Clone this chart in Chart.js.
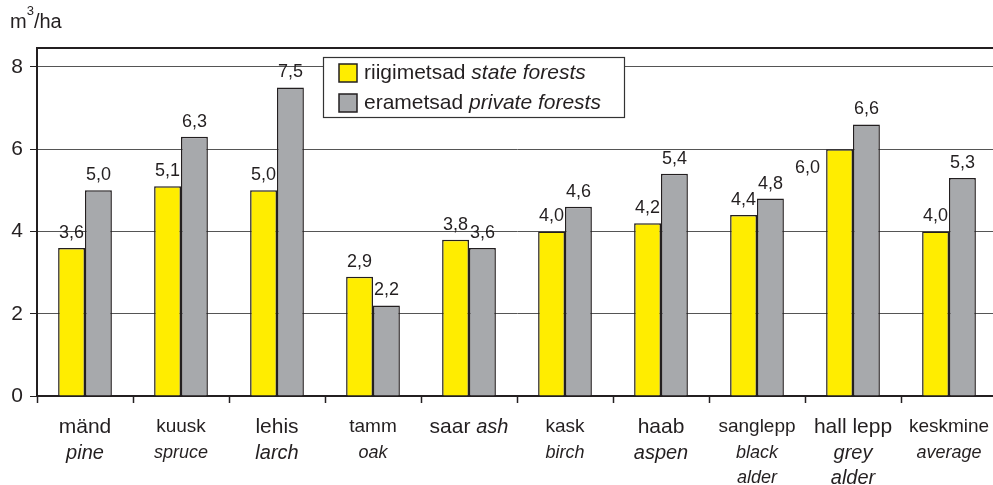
<!DOCTYPE html>
<html>
<head>
<meta charset="utf-8">
<script src="https://cdn.jsdelivr.net/npm/chart.js@4.4.1/dist/chart.umd.min.js"></script>
<style>
    html, body { margin: 0; padding: 0; overflow: hidden; background: #fff; }
</style>
</head>
<body>
<canvas id="chart" width="1000" height="485"></canvas>
<script>
// species names (Estonian / English)
const speciesEt = ['mänd', 'kuusk', 'lehis', 'tamm', 'saar', 'kask', 'haab', 'sanglepp', 'hall lepp', 'keskmine'];
const speciesEn = [['pine'], ['spruce'], ['larch'], ['oak'], ['ash'], ['birch'], ['aspen'], ['black', 'alder'], ['grey', 'alder'], ['average']];

// legend texts
const seriesEt = ['riigimetsad', 'erametsad'];
const seriesEn = ['state forests', 'private forests'];

// m3/ha values
const stateValues = [3.6, 5.1, 5.0, 2.9, 3.8, 4.0, 4.2, 4.4, 6.0, 4.0];
const privateValues = [5.0, 6.3, 7.5, 2.2, 3.6, 4.6, 5.4, 4.8, 6.6, 5.3];

const yTicks = [0, 2, 4, 6, 8];
const unitLabel = ['m', '3', '/ha'];

const FONT = 'Arial, "Liberation Sans", sans-serif';
const INK = '#231f20';
const colors = ['#ffed00', '#a7a9ac'];

function fmt(v) {
    return v.toFixed(1).replace('.', ',');
}

// labels above bars
const valueLabels = {
    id: 'valueLabels',
    afterDatasetsDraw(chart) {
        const ctx = chart.ctx;
        ctx.save();
        ctx.font = '18px ' + FONT;
        ctx.fillStyle = INK;
        ctx.textBaseline = 'bottom';
        chart.data.datasets.forEach((ds, di) => {
            chart.getDatasetMeta(di).data.forEach((bar, i) => {
                const text = fmt(ds.data[i]);
                // state label of "hall lepp" sits left of its bar in the original
                if (di === 0 && speciesEt[i] === 'hall lepp') {
                    ctx.textAlign = 'right';
                    ctx.fillText(text, bar.x - bar.width / 2 - 6, bar.y + 28);
                    return;
                }
                ctx.textAlign = 'center';
                ctx.fillText(text, bar.x, bar.y - 6);
            });
        });
        ctx.restore();
    }
};

// category labels, Estonian normal + English italic
const categoryLabels = {
    id: 'categoryLabels',
    afterDraw(chart) {
        const ctx = chart.ctx;
        const xs = chart.scales.x;
        ctx.save();
        ctx.fillStyle = INK;
        ctx.textBaseline = 'middle';
        speciesEt.forEach((et, i) => {
            const x = xs.getPixelForValue(i);
            const size = i % 2 === 0 ? 21 : 19;
            const normal = size + 'px ' + FONT;
            const italic = 'italic ' + (size - 1) + 'px ' + FONT;
            if (et === 'saar') {
                // single line: "saar ash"
                ctx.font = normal;
                const w1 = ctx.measureText(et + ' ').width;
                ctx.font = italic;
                const w2 = ctx.measureText(speciesEn[i][0]).width;
                const x0 = x - (w1 + w2) / 2;
                ctx.textAlign = 'left';
                ctx.font = normal;
                ctx.fillText(et + ' ', x0, 427);
                ctx.font = italic;
                ctx.fillText(speciesEn[i][0], x0 + w1, 427);
                return;
            }
            ctx.textAlign = 'center';
            ctx.font = normal;
            ctx.fillText(et, x, 427);
            ctx.font = italic;
            speciesEn[i].forEach((line, k) => {
                ctx.fillText(line, x, 453 + k * 25);
            });
        });
        ctx.restore();
    }
};

// frame top line, unit label and the boxed legend
const decorations = {
    id: 'decorations',
    afterDraw(chart) {
        const ctx = chart.ctx;
        const area = chart.chartArea;
        ctx.save();

        ctx.strokeStyle = INK;
        ctx.lineWidth = 2;
        ctx.beginPath();
        ctx.moveTo(area.left - 1, area.top);
        ctx.lineTo(chart.width, area.top);
        ctx.stroke();

        // unit: m, superscript 3, /ha
        ctx.fillStyle = INK;
        ctx.textAlign = 'left';
        ctx.textBaseline = 'alphabetic';
        ctx.font = '20px ' + FONT;
        ctx.fillText(unitLabel[0], 10, 28);
        let ux = 10 + ctx.measureText(unitLabel[0]).width;
        ctx.font = '13px ' + FONT;
        ctx.fillText(unitLabel[1], ux, 15);
        ux += ctx.measureText(unitLabel[1]).width;
        ctx.font = '20px ' + FONT;
        ctx.fillText(unitLabel[2], ux, 28);

        // legend box
        ctx.textBaseline = 'middle';
        ctx.fillStyle = '#fff';
        ctx.fillRect(323, 57, 302, 61);
        ctx.strokeStyle = '#333';
        ctx.lineWidth = 1.2;
        ctx.strokeRect(323.5, 57.5, 301, 60);

        seriesEt.forEach((et, k) => {
            const cy = 73 + k * 30;
            ctx.fillStyle = colors[k];
            ctx.fillRect(339, cy - 9, 18, 18);
            ctx.strokeStyle = INK;
            ctx.lineWidth = 1.5;
            ctx.strokeRect(339, cy - 9, 18, 18);

            ctx.fillStyle = INK;
            ctx.font = '21px ' + FONT;
            ctx.fillText(et + ' ', 364, cy);
            const w = ctx.measureText(et + ' ').width;
            ctx.font = 'italic 21px ' + FONT;
            ctx.fillText(seriesEn[k], 364 + w, cy);
        });
        ctx.restore();
    }
};

const canvas = document.getElementById('chart').getContext('2d');

new Chart(canvas, {
    type: 'bar',
    data: {
        labels: speciesEt,
        datasets: [
            {
                label: seriesEt[0] + ' ' + seriesEn[0],
                data: stateValues,
                backgroundColor: colors[0],
                borderColor: INK,
                borderWidth: 1.5,
                categoryPercentage: 0.56,
                barPercentage: 1.0
            },
            {
                label: seriesEt[1] + ' ' + seriesEn[1],
                data: privateValues,
                backgroundColor: colors[1],
                borderColor: INK,
                borderWidth: 1.5,
                categoryPercentage: 0.56,
                barPercentage: 1.0
            }
        ]
    },
    options: {
        responsive: false,
        animation: false,
        layout: { padding: { top: 48, left: 0, right: 3, bottom: 0 } },
        plugins: {
            legend: { display: false },
            tooltip: { enabled: false }
        },
        scales: {
            x: {
                grid: {
                    drawOnChartArea: false,
                    offset: true,
                    tickLength: 7,
                    tickColor: INK,
                    tickWidth: 1.5
                },
                border: { color: INK, width: 2 },
                ticks: { display: false },
                afterFit: function(scale) { scale.height = 89; }
            },
            y: {
                min: 0,
                max: 8.46,
                afterBuildTicks: function(scale) {
                    scale.ticks = yTicks.map(v => ({ value: v }));
                },
                border: { color: INK, width: 2 },
                grid: {
                    color: '#555',
                    lineWidth: 1,
                    tickColor: INK,
                    tickLength: 7
                },
                ticks: {
                    color: INK,
                    font: { size: 21, family: FONT },
                    padding: 7
                },
                afterFit: function(scale) { scale.width = 37; }
            }
        }
    },
    plugins: [valueLabels, categoryLabels, decorations]
});
</script>
</body>
</html>
